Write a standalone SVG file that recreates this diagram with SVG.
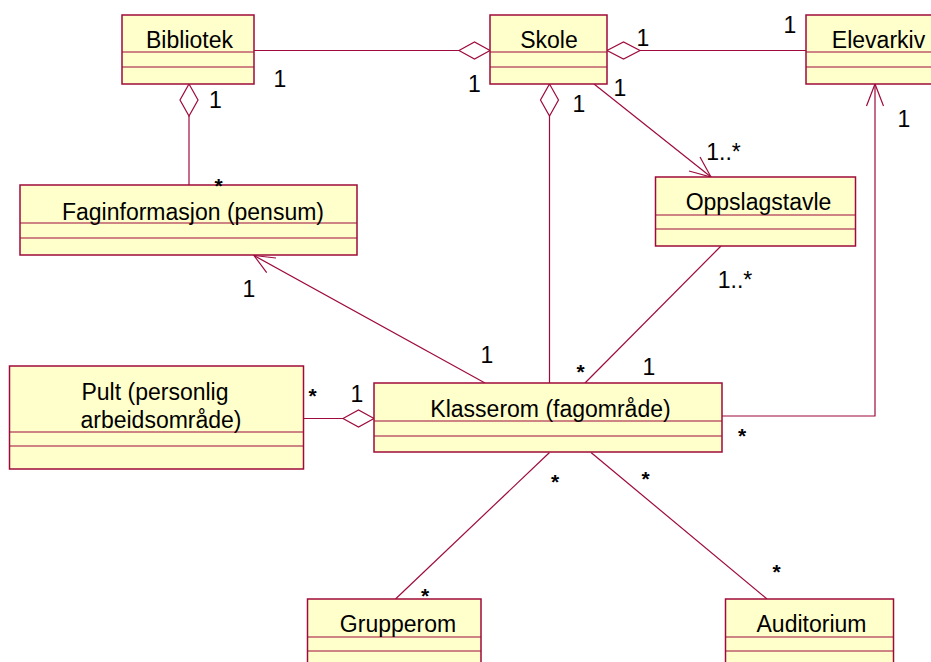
<svg xmlns="http://www.w3.org/2000/svg" width="931" height="662" viewBox="0 0 931 662">
  <style>
    .box { fill: #FFFFCC; stroke: #9E0B3A; stroke-width: 1.5; }
    .div { stroke: #9E0B3A; stroke-width: 1.2; }
    .name { font-family: "Liberation Sans", Arial, sans-serif; font-size: 23px; fill: #000; text-anchor: middle; }
    .edge { fill: none; stroke: #9E0B3A; stroke-width: 1.2; }
    .dia { fill: #FFFFFF; stroke: #9E0B3A; stroke-width: 1.2; }
    .mult { font-family: "Liberation Sans", Arial, sans-serif; font-size: 23px; fill: #000; text-anchor: middle; }
    .star { font-family: "Liberation Sans", Arial, sans-serif; font-size: 21px; font-weight: bold; fill: #000; text-anchor: middle; }
  </style>
  <rect width="931" height="662" fill="#FFFFFF"/>

  <!-- associations -->
  <g id="connectors">
    <!-- Skole aggregates Bibliotek -->
    <line class="edge" x1="254" y1="50.5" x2="459" y2="50.5"/>
    <polygon class="dia" points="459,50.5 474.5,42 490,50.5 474.5,59"/>
    <!-- Skole aggregates Elevarkiv -->
    <polygon class="dia" points="607,50.5 623.5,42 640,50.5 623.5,59"/>
    <line class="edge" x1="640" y1="50.5" x2="806" y2="50.5"/>
    <!-- Bibliotek aggregates Faginformasjon -->
    <polygon class="dia" points="189,84 198,100 189,116 180,100"/>
    <line class="edge" x1="189" y1="116" x2="189" y2="185"/>
    <!-- Skole aggregates Klasserom -->
    <polygon class="dia" points="549.5,84 558.5,100 549.5,116 540.5,100"/>
    <line class="edge" x1="549.5" y1="116" x2="549.5" y2="383"/>
    <!-- Skole navigates to Oppslagstavle -->
    <line class="edge" x1="594" y1="84" x2="711" y2="177"/>
    <polyline class="edge" points="689,171 711,177 700,157"/>
    <!-- Klasserom navigates to Faginformasjon -->
    <line class="edge" x1="485" y1="383" x2="254" y2="255.5"/>
    <polyline class="edge" points="276,258 254,255.5 266.7,272.7"/>
    <!-- Oppslagstavle - Klasserom -->
    <line class="edge" x1="721" y1="246" x2="585" y2="383"/>
    <!-- Klasserom navigates to Elevarkiv -->
    <polyline class="edge" points="722,416 875,416 875,84"/>
    <polyline class="edge" points="866.5,106 875,84 883.5,106"/>
    <!-- Klasserom aggregates Pult -->
    <line class="edge" x1="303.5" y1="418.5" x2="343" y2="418.5"/>
    <polygon class="dia" points="343,418.5 358.5,410 374,418.5 358.5,427"/>
    <!-- Klasserom - Grupperom / Auditorium -->
    <line class="edge" x1="549.5" y1="452.5" x2="395.5" y2="599"/>
    <line class="edge" x1="591" y1="452.5" x2="767" y2="599"/>
  </g>

  <!-- classes -->
  <g id="bibliotek">
    <rect class="box" x="122" y="15" width="132" height="69"/>
    <line class="div" x1="122" y1="52" x2="254" y2="52"/>
    <line class="div" x1="122" y1="67" x2="254" y2="67"/>
    <text class="name" x="189.5" y="48">Bibliotek</text>
  </g>
  <g id="skole">
    <rect class="box" x="490" y="15" width="117" height="69"/>
    <line class="div" x1="490" y1="52" x2="607" y2="52"/>
    <line class="div" x1="490" y1="67" x2="607" y2="67"/>
    <text class="name" x="549" y="48">Skole</text>
  </g>
  <g id="elevarkiv">
    <rect class="box" x="806" y="15" width="160" height="69"/>
    <line class="div" x1="806" y1="52" x2="966" y2="52"/>
    <line class="div" x1="806" y1="67" x2="966" y2="67"/>
    <text class="name" x="878.5" y="48">Elevarkiv</text>
  </g>
  <g id="faginformasjon">
    <rect class="box" x="20" y="185" width="337" height="70"/>
    <line class="div" x1="20" y1="223" x2="357" y2="223"/>
    <line class="div" x1="20" y1="238" x2="357" y2="238"/>
    <text class="name" x="193" y="220">Faginformasjon (pensum)</text>
  </g>
  <g id="oppslagstavle">
    <rect class="box" x="655.5" y="177" width="200" height="69"/>
    <line class="div" x1="655.5" y1="215" x2="855.5" y2="215"/>
    <line class="div" x1="655.5" y1="229" x2="855.5" y2="229"/>
    <text class="name" x="758.5" y="210">Oppslagstavle</text>
  </g>
  <g id="pult">
    <rect class="box" x="9.5" y="366" width="294" height="103"/>
    <line class="div" x1="9.5" y1="432" x2="303.5" y2="432"/>
    <line class="div" x1="9.5" y1="446" x2="303.5" y2="446"/>
    <text class="name" x="155" y="400">Pult (personlig</text>
    <text class="name" x="161" y="428">arbeidsområde)</text>
  </g>
  <g id="klasserom">
    <rect class="box" x="374" y="383" width="348" height="69"/>
    <line class="div" x1="374" y1="421" x2="722" y2="421"/>
    <line class="div" x1="374" y1="436" x2="722" y2="436"/>
    <text class="name" x="550.5" y="417">Klasserom (fagområde)</text>
  </g>
  <g id="grupperom">
    <rect class="box" x="307.5" y="599" width="173.5" height="80"/>
    <line class="div" x1="307.5" y1="637" x2="481" y2="637"/>
    <line class="div" x1="307.5" y1="651" x2="481" y2="651"/>
    <text class="name" x="398" y="632">Grupperom</text>
  </g>
  <g id="auditorium">
    <rect class="box" x="725.5" y="599" width="168" height="80"/>
    <line class="div" x1="725.5" y1="637" x2="893.5" y2="637"/>
    <line class="div" x1="725.5" y1="651" x2="893.5" y2="651"/>
    <text class="name" x="811.5" y="632">Auditorium</text>
  </g>

  <!-- multiplicities -->
  <g id="multiplicities">
    <text class="mult" x="280" y="87">1</text>
    <text class="mult" x="474.5" y="92">1</text>
    <text class="mult" x="215.5" y="108">1</text>
    <text class="mult" x="643" y="45.5">1</text>
    <text class="mult" x="790" y="33">1</text>
    <text class="mult" x="620" y="95.5">1</text>
    <text class="mult" x="579" y="112">1</text>
    <text class="mult" x="904" y="127">1</text>
    <text class="mult" x="249" y="297">1</text>
    <text class="mult" x="487" y="363">1</text>
    <text class="mult" x="649" y="375">1</text>
    <text class="mult" x="357" y="401.5">1</text>
    <text class="mult" x="723.5" y="160">1..*</text>
    <text class="mult" x="735" y="288">1..*</text>
    <text class="star" x="218.5" y="192.5">*</text>
    <text class="star" x="312.5" y="403">*</text>
    <text class="star" x="580.5" y="378.5">*</text>
    <text class="star" x="742" y="442.5">*</text>
    <text class="star" x="555" y="489">*</text>
    <text class="star" x="645.5" y="486">*</text>
    <text class="star" x="776.5" y="579">*</text>
    <text class="star" x="425" y="602.5">*</text>
  </g>
</svg>
